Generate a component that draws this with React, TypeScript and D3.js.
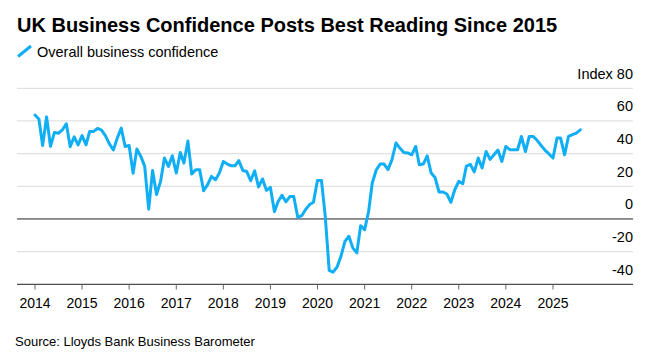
import React from "react";
import * as d3 from "d3";

const title = "UK Business Confidence Posts Best Reading Since 2015";
const seriesName = "Overall business confidence";
const source = "Source: Lloyds Bank Business Barometer";

const startYear = 2014;
const startMonth = 0; // January 2014

// Monthly readings, Jan 2014 .. Aug 2025
const confidence: number[] = [
  // 2014
  63.6, 61, 45, 62.5, 44.5, 53, 52.5, 54.5, 58.3, 44.2, 50.3, 45.4,
  // 2015
  51, 45.4, 53.6, 53.6, 55.4, 54.4, 51, 46, 42.2, 49.5, 55.6, 44.4,
  // 2016
  45, 28, 42.8, 38.3, 32.2, 6, 29.7, 15, 23, 37.3, 32.2, 38.7,
  // 2017
  28.1, 40.7, 34.2, 47.7, 27.5, 30.2, 30.2, 17.3, 21, 26.1, 24, 28.1,
  // 2018
  35.2, 33.6, 32.6, 32.6, 35.7, 29.7, 29.1, 23.4, 29.5, 19.6, 24.5, 17.5,
  // 2019
  19.3, 4.5, 10.5, 14.5, 10.5, 13.7, 13.7, 1, 2, 5.8, 8.8, 10.3,
  // 2020
  23.6, 23.6, 2, -31.5, -32.6, -29.4, -22.9, -13.7, -10.6, -17.7, -20.8, -4.1,
  // 2021
  -6.5, 4.7, 22, 30, 33.6, 33.6, 30.2, 36.3, 46.5, 43.4, 40.7, 40.4,
  // 2022
  39.3, 44.4, 33.2, 33.6, 38.7, 28.1, 25.4, 16.5, 16.5, 15.3, 10.2, 17.9,
  // 2023
  23, 21.6, 32.4, 33.4, 28.8, 37.3, 31.2, 41.3, 36.5, 39.3, 42.2, 35.2,
  // 2024
  44.4, 42.4, 42.4, 42.4, 50.5, 41.3, 50.5, 50.5, 48, 45, 42, 39.8,
  // 2025
  37.3, 49.5, 49.5, 39.3, 50.5, 51.6, 52.6, 54.6,
];

const yearTicks: number[] = [2014, 2015, 2016, 2017, 2018, 2019, 2020, 2021, 2022, 2023, 2024, 2025];
const yTicks: number[] = [-40, -20, 0, 20, 40, 60, 80];

const W = 652;
const H = 358;
const FONT = "'Liberation Sans', Arial, Helvetica, sans-serif";
const BLUE = "#10aef5";

export default function App() {
  const x = d3
    .scaleTime()
    .domain([new Date(2014, 0, 1), new Date(2025, 0, 1)])
    .range([35, 553]);
  const y = d3.scaleLinear().domain([-40, 80]).range([284.3, 88.3]);

  const data = confidence.map((v, i) => ({
    date: new Date(startYear, startMonth + i, 1),
    value: v,
  }));

  const line = d3
    .line<{ date: Date; value: number }>()
    .x((d) => x(d.date))
    .y((d) => y(d.value));

  const gridLeft = 17;
  const gridRight = 633;

  return (
    <svg
      width={W}
      height={H}
      viewBox={`0 0 ${W} ${H}`}
      style={{ position: "absolute", left: 0, top: 0, background: "#fff" }}
      fontFamily={FONT}
    >
      <rect x={0} y={0} width={W} height={H} fill="#fff" />
      <text x={17} y={32} fontSize={20} fontWeight="bold" fill="#000">
        {title}
      </text>
      <line x1={18} y1={56.5} x2={31} y2={46} stroke={BLUE} strokeWidth={3} />
      <text x={37} y={57} fontSize={14.5} fill="#000">
        {seriesName}
      </text>

      {yTicks.map((t) => (
        <g key={t}>
          <line
            x1={gridLeft}
            x2={gridRight}
            y1={y(t)}
            y2={y(t)}
            stroke={t === 0 || t === -40 ? "#222" : "#e1e1e1"}
            strokeWidth={t === 0 || t === -40 ? 1 : 1.2}
          />
          <text
            x={gridRight}
            y={y(t) - 9.5}
            fontSize={14.5}
            textAnchor="end"
            fill="#000"
          >
            {t === 80 ? `Index ${t}` : `${t}`}
          </text>
        </g>
      ))}

      {yearTicks.map((yr) => {
        const xp = x(new Date(yr, 0, 1));
        return (
          <g key={yr}>
            <line x1={xp} x2={xp} y1={284.3} y2={289.5} stroke="#666" strokeWidth={1} />
            <text x={xp} y={308} fontSize={14} textAnchor="middle" fill="#000">
              {yr}
            </text>
          </g>
        );
      })}

      <path
        d={line(data) || ""}
        fill="none"
        stroke={BLUE}
        strokeWidth={3}
        strokeLinejoin="round"
        strokeLinecap="round"
      />

      <text x={15} y={346} fontSize={13} fill="#000">
        {source}
      </text>
    </svg>
  );
}
